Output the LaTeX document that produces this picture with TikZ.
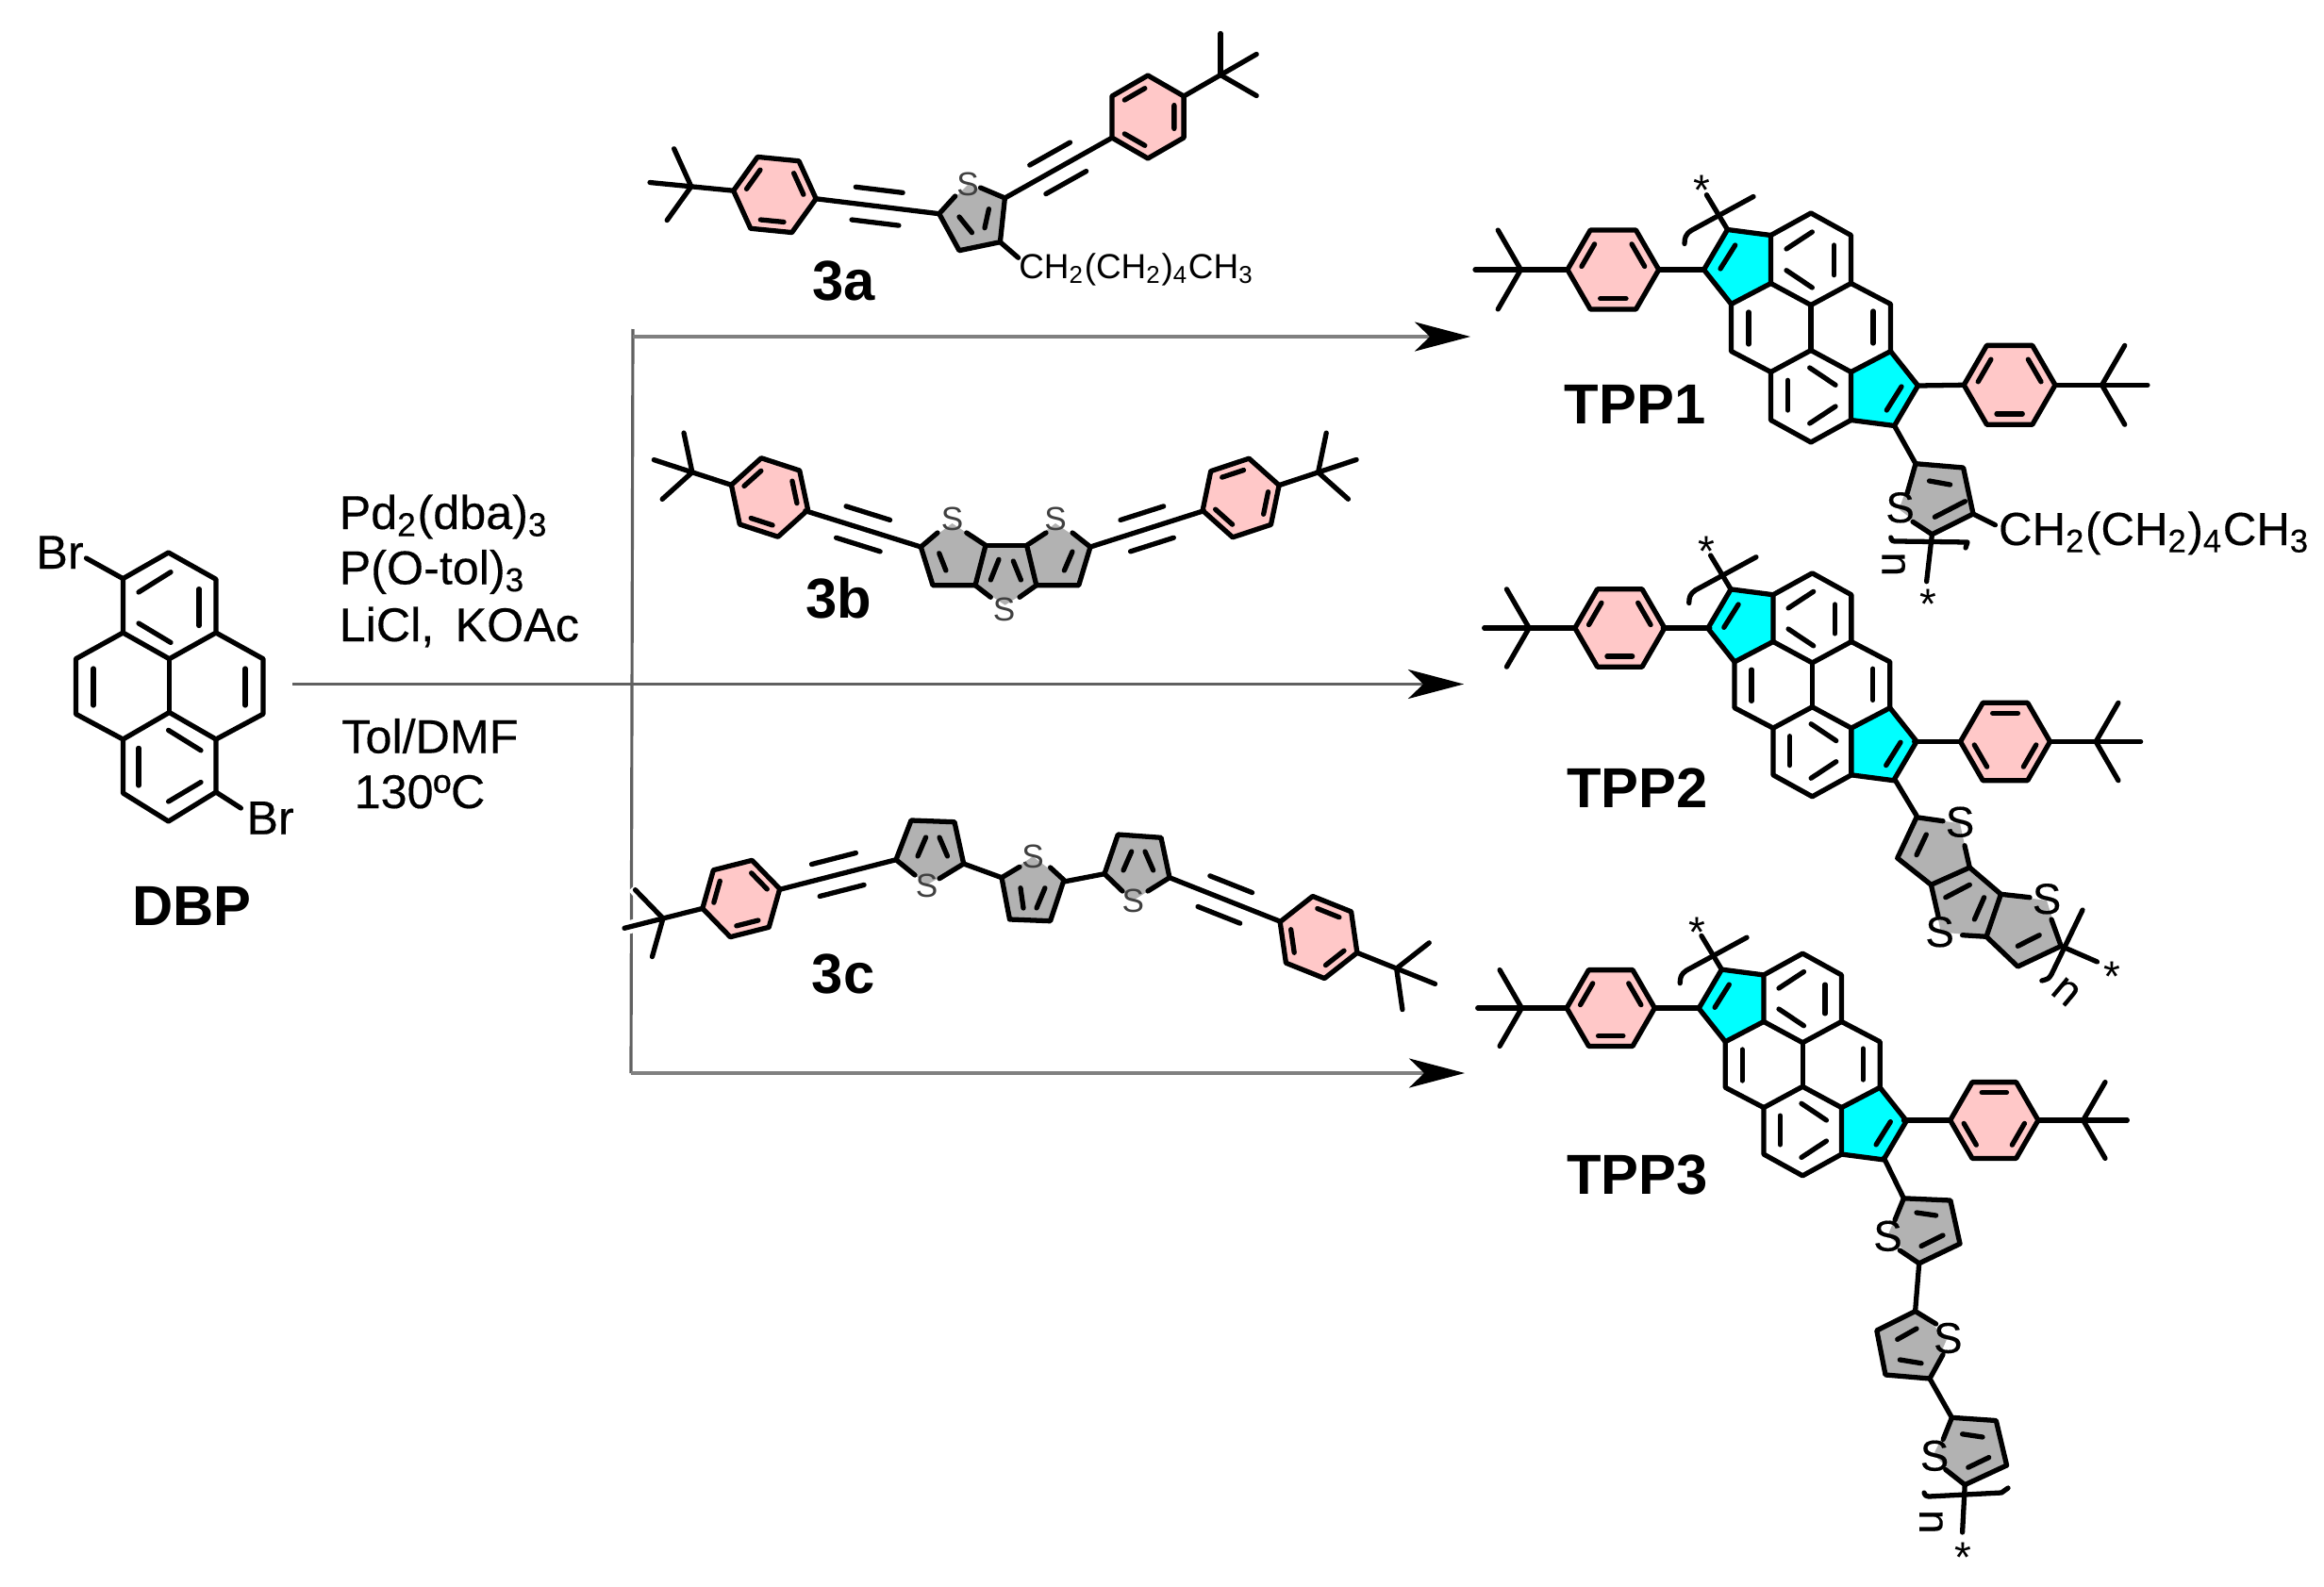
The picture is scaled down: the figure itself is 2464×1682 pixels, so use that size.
\documentclass[tikz,border=0pt]{standalone}
\usepackage{fontspec}
\setmainfont{Liberation Sans}
\newfontfamily\heavyfont[FakeBold=0.3]{Liberation Sans}
\usetikzlibrary{arrows.meta,calc}

\definecolor{ringpink}{HTML}{FFC8C8}
\definecolor{corecyan}{HTML}{00FFFF}
\definecolor{thiogray}{HTML}{B2B2B2}
\definecolor{rxngray}{HTML}{606060}

\tikzset{
  bond/.style={line width=1.5pt,line join=round,line cap=round},
  thio/.style={fill=thiogray},
  rxnline/.style={draw=rxngray,line width=0.9pt},
  rxnarrow/.style={rxnline,-{Stealth[length=0.59cm,width=0.31cm,inset=0.16cm,color=black]}},
  reagent/.style={font=\heavyfont\fontsize{14.3}{17}\selectfont,inner sep=0pt,anchor=base west},
  title/.style={font=\fontsize{17}{20}\selectfont\bfseries,inner sep=0pt},
  atomsmall/.style={font=\fontsize{10}{12}\selectfont,text=black!75,inner sep=0pt},
  atomlarge/.style={font=\heavyfont\fontsize{13}{15}\selectfont,inner sep=0pt},
  starmark/.style={font=\fontsize{13}{15}\selectfont,inner sep=0pt,yshift=-3pt},
  % para-tert-butylphenyl, origin at the ring centre, t-Bu along +x
  pics/tbuaryl/.style={code={
    \filldraw[bond,fill=ringpink] (0:44) -- (60:44) -- (120:44) -- (180:44) -- (240:44) -- (300:44) -- cycle;
    \foreach \m in {0,120,240} \draw[bond] (#1+\m-24:30.5) -- (#1+\m+24:30.5);
    \draw[bond] (44,0) -- (89,0);
    \foreach \m in {-60,0,60} \draw[bond] (89,0) -- ++(\m:44);
  }},
  % cyclopenta-fused pyrene core, origin at the centre
  pics/tppcore/.style={code={
    \foreach \a in {0,180} {
      \begin{scope}[rotate=\a]
        \filldraw[bond,fill=corecyan] (-113.5,-61.5) -- (-88.5,-104) -- (-42.5,-98) -- (-42.5,-47) -- (-84.5,-25) -- cycle;
        \draw[bond] (-42.5,-98) -- (0,-121.5) -- (42.5,-98) -- (42.5,-47) -- (0,-24) -- (-42.5,-47);
        \draw[bond] (42.5,-47) -- (84.5,-25) -- (84.5,25);
        \draw[bond] (0,-24) -- (0,24);
        \draw[bond] (-96,-62.5) -- (-80.3,-87.5);
        \draw[bond] (-26,-83.5) -- (1.3,-101.5);
        \draw[bond] (24.6,-87.5) -- (24.6,-55.8);
        \draw[bond] (-26,-60.8) -- (1.3,-42.5);
        \draw[bond] (66,-17.5) -- (66,16.5);
      \end{scope}
    }
    \draw[bond] (-88.5,-104) -- (-110.6,-140.8);
    \draw[bond] (-61,-139) -- (-127,-103) .. controls (-133,-99) and (-134,-95) .. (-134,-89);
    \node[starmark] (star) at (-115.3,-155.8) {*};
  }}
}

\newcommand{\alkyne}[2]{
  \draw[bond] #1 -- #2;
  \draw[bond] ($#1!.31!#2!.175cm!90:#2$) -- ($#1!.69!#2!.175cm!90:#2$);
  \draw[bond] ($#1!.31!#2!.175cm!-90:#2$) -- ($#1!.69!#2!.175cm!-90:#2$);
}

\begin{document}
\begin{tikzpicture}[x=0.01cm,y=-0.01cm]
\useasboundingbox (0,0) rectangle (2464,1682);

% reaction lines
\coordinate (mainstart) at (310,725.5);
\coordinate (mainend) at (1552,725.5);
\coordinate (vtop) at (671,349);
\coordinate (vbottom) at (669,1138);
\coordinate (topstart) at (671,357);
\coordinate (topend) at (1559,357);
\coordinate (bottomend) at (1553,1138);
\draw[rxnline] (vtop) -- (vbottom);
\draw[rxnarrow,draw=gray] (topstart) -- (topend);
\draw[rxnarrow] (mainstart) -- (mainend);
\draw[rxnarrow,draw=gray] (vbottom) -- (bottomend);

% DBP
\draw[bond] (178.6,586) -- (229,614.3) -- (229,671) -- (179.5,698.7) -- (130.4,671) -- (130.4,613.6) -- cycle;
\draw[bond] (130.4,671) -- (80.4,698.7) -- (80.4,757.2) -- (130.4,784) -- (179.5,755.5) -- (229,784) -- (279,757.2) -- (279,698.7) -- (229,671);
\draw[bond] (179.5,698.7) -- (179.5,755.5);
\draw[bond] (130.4,784) -- (130.4,841) -- (178.6,871) -- (229,840) -- (229,784);
\draw[bond] (147,628) -- (181,606.7);
\draw[bond] (211,624.6) -- (211,663.5);
\draw[bond] (147,661) -- (181,681.4);
\draw[bond] (99,709) -- (99,748);
\draw[bond] (260,709) -- (260,748);
\draw[bond] (178.6,774.4) -- (213,795.8);
\draw[bond] (147,793.4) -- (147,833);
\draw[bond] (178.6,850) -- (213,829.5);
\draw[bond] (130.4,613.6) -- (91.5,592);
\draw[bond] (229,840) -- (255.4,857);
\node[reagent,anchor=center] (brtop) at (63.5,585.7) {Br};
\node[reagent,anchor=center] (brbottom) at (286.6,867.4) {Br};
\node[title] (dbp) at (203.6,961.4) {DBP};

% conditions
\node[reagent] (pdcat) at (359,561) {Pd\textsubscript{2}(dba)\textsubscript{3}};
\node[reagent] (ligand) at (359,619.5) {P(O-tol)\textsubscript{3}};
\node[reagent] (salts) at (359,680) {LiCl,\hspace{2.4pt} KOAc};
\node[reagent] (solvent) at (361.6,798.5) {Tol/DMF};
\node[reagent] (temp) at (375,857) {130ºC};

% 3a
\pic[rotate=174.4] at (821.4,206.5) {tbuaryl=30};
\pic[rotate=30] at (1217,124) {tbuaryl=30};
\alkyne{(864.5,210.7)}{(995.7,226.7)}
\alkyne{(1065.4,210)}{(1178,146.7)}
\fill[thio] (995.7,226.7) -- (1026,196) -- (1065.4,210) -- (1060.4,256.7) -- (1017,265.7) -- cycle;
\draw[bond] (1012.7,208) -- (995.7,226.7) -- (1017,265.7) -- (1060.4,256.7) -- (1065.4,210) -- (1039.5,199);
\draw[bond] (1017,230) -- (1030.5,246.7);
\draw[bond] (1048.4,221.7) -- (1044,241.7);
\draw[bond] (1060.4,256.7) -- (1079.6,273.3);
\node[atomsmall] (sa) at (1026,195) {S};
\node[font=\fontsize{10.5}{12}\selectfont,inner sep=0pt,anchor=base west] (hexyla) at (1079.6,295) {CH\textsubscript{2}(CH\textsubscript{2})\textsubscript{4}CH\textsubscript{3}};
\node[title] (labela) at (894.4,298) {3a};

% 3b
\pic[rotate=162,scale=0.97] at (816,527.5) {tbuaryl=30};
\pic[rotate=18.3,scale=0.97] at (1315.6,528) {tbuaryl=30};
\alkyne{(853.9,541.7)}{(976.3,580)}
\alkyne{(1156,580)}{(1276.3,541.7)}
\fill[thio] (976.3,580) -- (1009.5,555) -- (1045,578.3) -- (1088.6,578.3) -- (1119,555) -- (1156,580) -- (1143.7,620.7) -- (1098.8,620.7) -- (1065.6,641.7) -- (1034,620.7) -- (989,620.7) -- cycle;
\draw[bond] (994,565) -- (976.3,580) -- (989,620.7) -- (1034,620.7) -- (1045,578.3) -- (1024.8,565);
\draw[bond] (1137,565) -- (1156,580) -- (1143.7,620.7) -- (1098.8,620.7) -- (1088.6,578.3) -- (1109,565);
\draw[bond] (1045,578.3) -- (1088.6,578.3);
\draw[bond] (1034,620.7) -- (1050.3,633.3);
\draw[bond] (1098.8,620.7) -- (1081,633.3);
\draw[bond] (995.7,586.7) -- (1002.9,605);
\draw[bond] (1137,585) -- (1128.4,605);
\draw[bond] (1059,593.3) -- (1050.3,615);
\draw[bond] (1074.3,595) -- (1082.4,615);
\node[atomsmall] (sbl) at (1009.5,550) {S};
\node[atomsmall] (sbr) at (1119,550) {S};
\node[atomsmall] (sbc) at (1064.6,646.7) {S};
\node[title] (labelb) at (889.6,634) {3b};

% 3c
\draw[white,line width=4pt] (702,974.3) -- (660,985);
\draw[white,line width=4pt] (702,974.3) -- (671.6,940);
\pic[rotate=194.2,scale=0.96] at (785.8,953) {tbuaryl=30};
\pic[rotate=-21.8] at (1398,994) {tbuaryl=30};
\alkyne{(826.6,943.3)}{(950,911.7)}
\alkyne{(1240,930.7)}{(1357.6,977.3)}
\fill[thio] (950,911.7) -- (966,870) -- (1012,871.7) -- (1021.7,916) -- (982.7,938.3) -- cycle;
\draw[bond] (970,928) -- (950,911.7) -- (966,870) -- (1012,871.7) -- (1021.7,916) -- (996,931.7);
\draw[bond] (973,908) -- (981.6,888);
\draw[bond] (996,888) -- (1004.5,908);
\node[atomsmall] (sca) at (982.7,939.3) {S};
\draw[bond] (1021.7,916) -- (1062,930.7);
\fill[thio] (1062,930.7) -- (1095,908.3) -- (1128,933.3) -- (1113.6,976.7) -- (1070.5,975) -- cycle;
\draw[bond] (1081,919.3) -- (1062,930.7) -- (1070.5,975) -- (1113.6,976.7) -- (1128,933.3) -- (1113.6,920);
\draw[bond] (1082,941.7) -- (1085,963);
\draw[bond] (1107.9,941.7) -- (1099,963);
\node[atomsmall] (scb) at (1095,908) {S};
\draw[bond] (1128,935) -- (1171,926.7);
\fill[thio] (1171,926.7) -- (1185.3,885) -- (1231,888.3) -- (1240,930.7) -- (1201.4,955) -- cycle;
\draw[bond] (1190,945) -- (1171,926.7) -- (1185.3,885) -- (1231,888.3) -- (1240,930.7) -- (1217,945);
\draw[bond] (1191,923) -- (1199.7,903);
\draw[bond] (1214,903) -- (1222.7,923);
\node[atomsmall] (scc) at (1201.4,955) {S};
\node[title] (labelc) at (894,1032.7) {3c};

% TPP1
\pic (tppone) at (1920,347.5) {tppcore};
\pic[rotate=180,scale=1.1] at (1710.3,286) {tbuaryl=30};
\pic[scale=1.1] at (2130.6,408.3) {tbuaryl=90};
\draw[bond] (1758.7,286) -- (1806.5,286);
\draw[bond] (2033.5,409) -- (2082,408.3);
\draw[bond] (2008.5,451.5) -- (2031,491.7);
\fill[thio] (2031,491.7) -- (2081.6,496) -- (2092,545) -- (2048.4,566.7) -- (2013.4,540) -- cycle;
\draw[bond] (2022,523.3) -- (2031,491.7) -- (2081.6,496) -- (2092,545) -- (2048.4,566.7) -- (2028,553.3);
\draw[bond] (2045.5,510) -- (2067.6,514);
\draw[bond] (2051.3,548.3) -- (2083.4,531.7);
\draw[bond] (2092,545) -- (2115.4,556.7);
\draw[bond] (2048.4,566.7) -- (2042.6,616.7);
\draw[bond] (2004.7,570) .. controls (2006,574) .. (2012,574) -- (2086,575) -- (2084,581);
\node[atomlarge] (sone) at (2014.6,538.3) {S};
\node[font=\heavyfont\fontsize{14}{16}\selectfont,inner sep=0pt,anchor=base west] (hexylone) at (2118.3,578) {CH\textsubscript{2}(CH\textsubscript{2})\textsubscript{4}CH\textsubscript{3}};
\node[atomlarge,rotate=-90] (none) at (2007.6,598.3) {n};
\node[starmark] (starone) at (2044.3,630) {*};
\node[title] (tppa) at (1733.6,429.3) {TPP1};

% TPP2
\pic (tpptwo) [scale=0.975] at (1921.4,726.3) {tppcore};
\pic[rotate=180,scale=1.08] at (1717.3,666) {tbuaryl=30};
\pic[scale=1.08] at (2126,786.5) {tbuaryl=30};
\draw[bond] (1763.3,666) -- (1812.8,666);
\draw[bond] (2029.6,786.7) -- (2079,786.7);
\draw[bond] (2009,826.7) -- (2032,865);
\fill[thio] (2032,866.7) -- (2078,873.3) -- (2088.3,920) -- (2121.4,948.3) -- (2170,955) -- (2185.2,1003.3) -- (2139.3,1025) -- (2106,993.3) -- (2057.7,988.3) -- (2047.4,938.3) -- (2011.7,910) -- cycle;
\draw[bond] (2060,870.7) -- (2032,866.7) -- (2011.7,910) -- (2047.4,938.3) -- (2088.3,920) -- (2083,896.7);
\draw[bond] (2042.3,885) -- (2032,906.7);
\draw[bond] (2047.4,938.3) -- (2055,971.7);
\draw[bond] (2088.3,920) -- (2121.4,948.3) -- (2106,993.3) -- (2080.6,991.7);
\draw[bond] (2062.8,951.7) -- (2088.3,938.3);
\draw[bond] (2103.6,951.7) -- (2093.4,975);
\draw[bond] (2152,951.7) -- (2121.4,948.3);
\draw[bond] (2106,993.3) -- (2139.3,1025) -- (2185.2,1003.3) -- (2175,975);
\draw[bond] (2139.3,1003.3) -- (2162.2,991.7);
\draw[bond] (2185.2,1003.3) -- (2223.5,1020);
\draw[bond] (2208,965) -- (2175,1033.3) .. controls (2172,1038) .. (2164.8,1040);
\node[atomlarge] (stwoa) at (2078,871.7) {S};
\node[atomlarge] (stwob) at (2170,953.3) {S};
\node[atomlarge] (stwoc) at (2056.6,988.3) {S};
\node[atomlarge,rotate=-40] (ntwo) at (2190.3,1051.7) {n};
\node[starmark] (startwo) at (2239.8,1025) {*};
\node[title] (tppb) at (1736.2,836) {TPP2};

% TPP3
\pic (tppthree) [scale=0.97] at (1911.2,1129) {tppcore};
\pic[rotate=180,scale=1.06] at (1707.7,1069) {tbuaryl=30};
\pic[scale=1.06] at (2114.3,1188) {tbuaryl=30};
\draw[bond] (1754,1069) -- (1801,1069);
\draw[bond] (2018.4,1188) -- (2067.9,1188);
\draw[bond] (1997.4,1228) -- (2018.4,1270.8);
\fill[thio] (2018.4,1270.8) -- (2067.9,1273) -- (2078,1319) -- (2034.7,1339.8) -- (2001.5,1310) -- cycle;
\draw[bond] (2009,1293.8) -- (2018.4,1270.8) -- (2067.9,1273) -- (2078,1319) -- (2034.7,1339.8) -- (2014.3,1326);
\draw[bond] (2032,1286) -- (2052.6,1289);
\draw[bond] (2037,1321.4) -- (2060,1310);
\draw[bond] (2034.7,1339.8) -- (2030.6,1390.5);
\fill[thio] (2030.6,1390.5) -- (2065,1418) -- (2046,1462) -- (1999,1458) -- (1989.8,1411) -- cycle;
\draw[bond] (2052.6,1404) -- (2030.6,1390.5) -- (1989.8,1411) -- (1999,1458) -- (2046,1462) -- (2060,1436.5);
\draw[bond] (2011.7,1420.4) -- (2032,1409);
\draw[bond] (2014.3,1442) -- (2037,1445.7);
\draw[bond] (2046,1462) -- (2069.4,1503.3);
\fill[thio] (2069.4,1503.3) -- (2116.3,1506.5) -- (2127.6,1554) -- (2083.2,1574.6) -- (2050,1542.4) -- cycle;
\draw[bond] (2060.2,1526.3) -- (2069.4,1503.3) -- (2116.3,1506.5) -- (2127.6,1554) -- (2083.2,1574.6) -- (2062.8,1558.5);
\draw[bond] (2080.6,1520.8) -- (2102,1524);
\draw[bond] (2086.7,1556.2) -- (2108.7,1545.6);
\draw[bond] (2083.2,1574.6) -- (2080.6,1625);
\draw[bond] (2040,1583) .. controls (2041,1586) .. (2045,1587) -- (2122,1583) -- (2129,1578);
\node[atomlarge] (sthreea) at (2001.5,1310.8) {S};
\node[atomlarge] (sthreeb) at (2065.3,1419) {S};
\node[atomlarge] (sthreec) at (2051,1543.8) {S};
\node[atomlarge,rotate=-90] (nthree) at (2047.4,1613.8) {n};
\node[starmark] (starthree) at (2081.6,1641.4) {*};
\node[title] (tppc) at (1736.2,1245.5) {TPP3};
\end{tikzpicture}
\end{document}
